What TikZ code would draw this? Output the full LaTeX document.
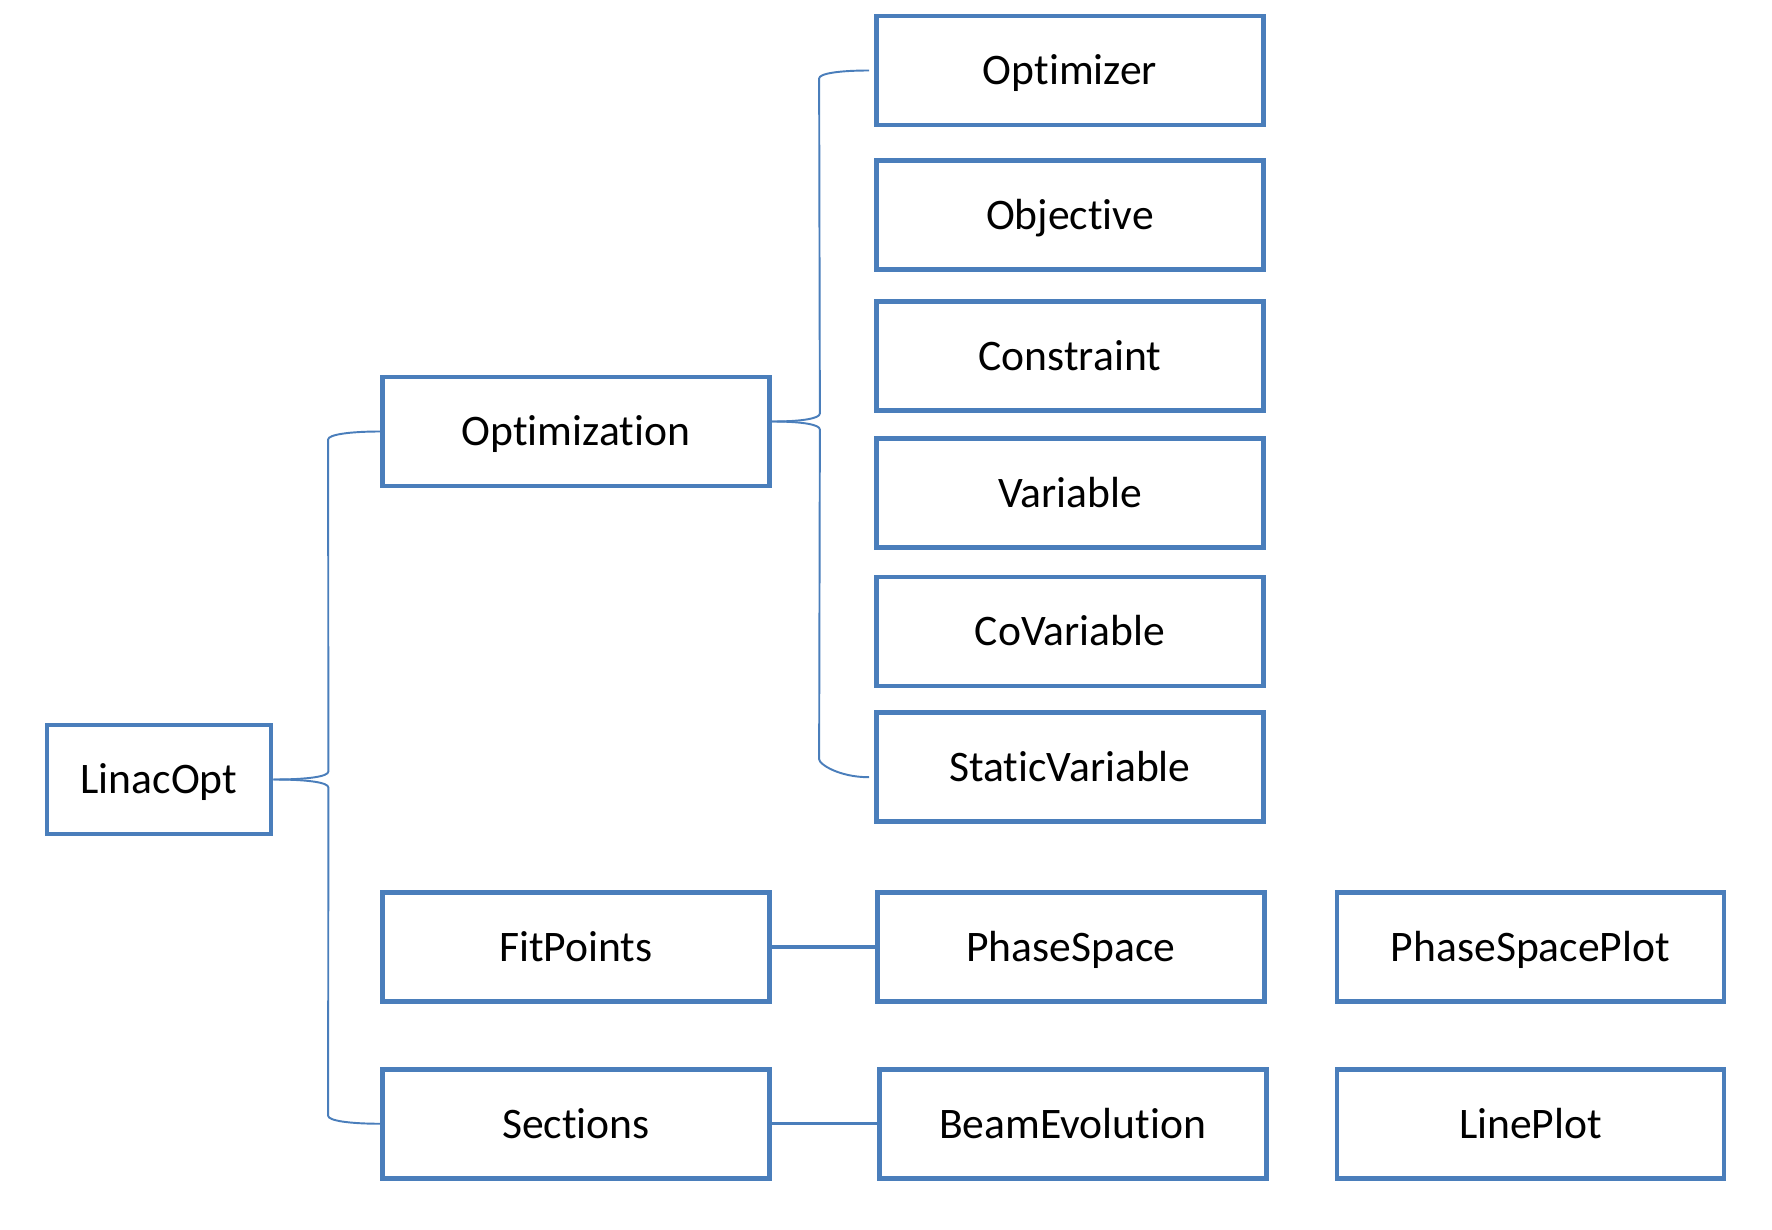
\documentclass[tikz,border=0pt]{standalone}
\usepackage{fontspec}
\setmainfont{Carlito}[Ligatures={CommonOff,ContextualOff}]
\usepackage{tikz}
\usetikzlibrary{positioning, calc}
\definecolor{classblue}{RGB}{74,126,187}

\begin{document}
\begin{tikzpicture}[
  box/.style={rectangle, draw=classblue, line width=1.35pt, fill=white,
              minimum width=3.87cm, minimum height=1.09cm, align=center,
              text height=8.2pt, text depth=0pt, font=\fontsize{12.4}{14}\selectfont},
  link/.style={draw=classblue, line width=0.9pt},
  brace/.style={draw=classblue, line width=0.55pt},
]
  \useasboundingbox (0,0) rectangle (17.72,-12.30);

  % root and first level
  \node[box, minimum width=2.24cm] (linacopt) at (1.59,-7.795) {LinacOpt};
  \node[box] (optimization) at (5.76,-4.315) {Optimization};
  \node[box] (fitpoints)    at (5.76,-9.47)  {FitPoints};
  \node[box, below=0.63cm of fitpoints] (sections) {Sections};

  % optimization classes
  \node[box] (optimizer) at (10.70,-0.705) {Optimizer};
  \node[box, below=0.31cm of optimizer]  (objective)  {Objective};
  \node[box, below=0.27cm of objective]  (constraint) {Constraint};
  \node[box, below=0.23cm of constraint] (variable)   {Variable};
  \node[box, below=0.25cm of variable]   (covariable) {CoVariable};
  \node[box, below=0.22cm of covariable] (staticvar)  {StaticVariable};

  % data and plots
  \node[box, right=1.03cm of fitpoints]  (phasespace) {PhaseSpace};
  \node[box, right=1.05cm of sections]   (beamevol)   {BeamEvolution};
  \node[box, right=0.68cm of phasespace] (phaseplot)  {PhaseSpacePlot};
  \node[box, right=0.66cm of beamevol]   (lineplot)   {LinePlot};

  \draw[link] (fitpoints) -- (phasespace);
  \draw[link] (sections)  -- (beamevol);

  % brace from LinacOpt
  \draw[brace] (linacopt.east) .. controls +(0.35,0) and +(0,-0.05) .. ++(0.55,0.08)
    -- ($(optimization.west)+(-0.52,-0.08)$) .. controls +(0,0.05) and +(-0.3,0) .. (optimization.west);
  \draw[brace] (linacopt.east) .. controls +(0.35,0) and +(0,0.05) .. ++(0.55,-0.08)
    -- ($(sections.west)+(-0.52,0.08)$) .. controls +(0,-0.05) and +(-0.3,0) .. (sections.west);

  % brace from Optimization
  \coordinate (opttip) at ([yshift=1mm]optimization.east);
  \draw[brace] (opttip) .. controls +(0.3,0) and +(0,-0.05) .. ++(0.48,0.08)
    -- ($(optimizer.west)+(-0.55,-0.08)$) .. controls +(0,0.05) and +(-0.3,0) .. ([xshift=-0.5mm]optimizer.west);
  \draw[brace] (opttip) .. controls +(0.3,0) and +(0,0.05) .. ++(0.48,-0.08)
    -- ($(staticvar.west)+(-0.55,0.08)$) .. controls +(0,-0.05) and +(-0.3,0) .. ([xshift=-0.5mm,yshift=-1mm]staticvar.west);
\end{tikzpicture}
\end{document}
